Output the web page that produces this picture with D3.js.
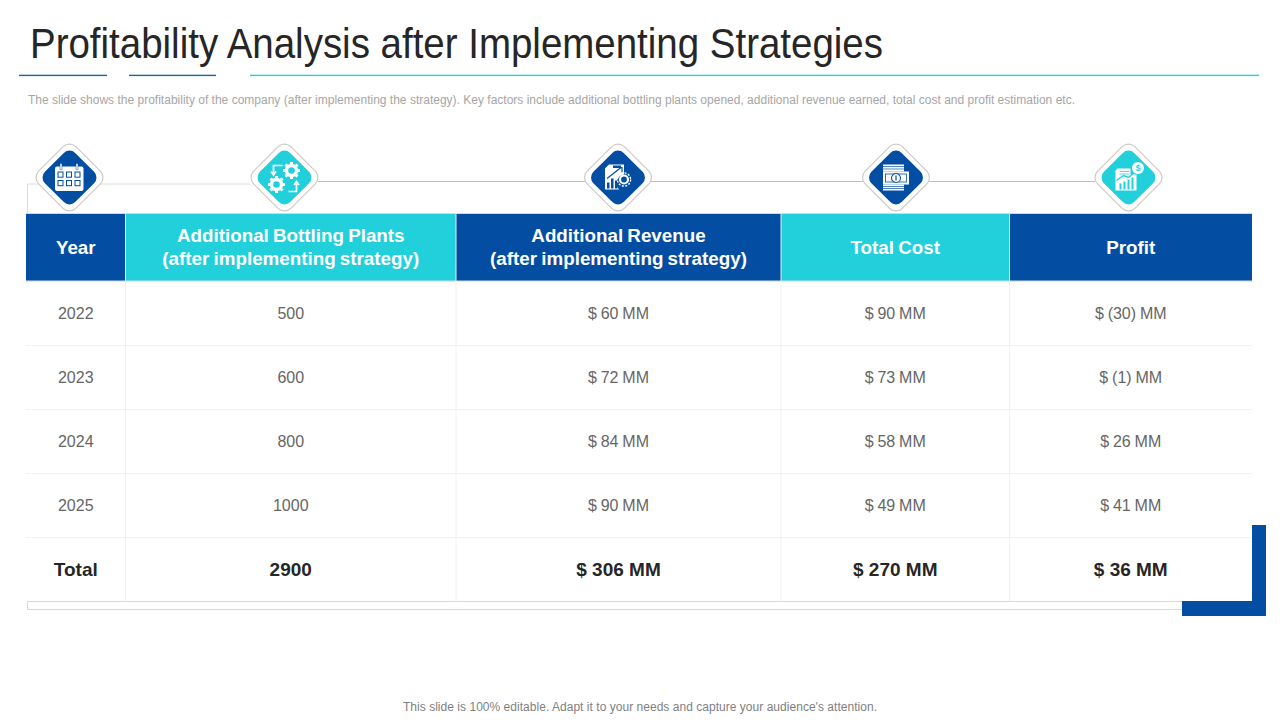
<!DOCTYPE html>
<html>
<head>
<meta charset="utf-8">
<script src="https://cdn.jsdelivr.net/npm/d3@7"></script>
<style>
  html, body { margin: 0; padding: 0; background: #fff; }
  svg { display: block; }
  text { font-family: "Liberation Sans", Arial, sans-serif; }
</style>
</head>
<body>
<svg id="chart" width="1280" height="720"></svg>
<script>
const titleText = 'Profitability Analysis after Implementing Strategies';
const subText = 'The slide shows the profitability of the company (after implementing the strategy). Key factors include additional bottling plants opened, additional revenue earned, total cost and profit estimation etc.';
const footText = "This slide is 100% editable. Adapt it to your needs and capture your audience's attention.";

const headers = [
  ['Year'],
  ['Additional Bottling Plants', '(after implementing strategy)'],
  ['Additional Revenue', '(after implementing strategy)'],
  ['Total Cost'],
  ['Profit']
];
const years = ['2022', '2023', '2024', '2025', 'Total'];
const plants = ['500', '600', '800', '1000', '2900'];
const revenue = ['$ 60 MM', '$ 72 MM', '$ 84 MM', '$ 90 MM', '$ 306 MM'];
const cost = ['$ 90 MM', '$ 73 MM', '$ 58 MM', '$ 49 MM', '$ 270 MM'];
const profit = ['$ (30) MM', '$ (1) MM', '$ 26 MM', '$ 41 MM', '$ 36 MM'];
const columns = [years, plants, revenue, cost, profit];

const colEdges = [26, 125.5, 456, 781, 1009.5, 1252];
const iconX = [69.5, 284.5, 618, 896, 1128.5];
const blue = '#034ea2';
const teal = '#22d0dc';
const headFill = [blue, teal, blue, teal, blue];
const iconFill = [blue, teal, blue, blue, teal];

const svg = d3.select('#chart');
const colX = d3.scaleOrdinal().domain(d3.range(5)).range(colEdges.slice(0, 5));
const colW = i => colEdges[i + 1] - colEdges[i];
const rowY = d3.scaleBand().domain(years).range([281, 601]);

// title and the three rules under it
svg.append('text').attr('x', 30).attr('y', 57.5)
  .style('font-family', '"Liberation Sans Narrow", "Liberation Sans"')
  .style('font-size', '42px').attr('fill', '#262626')
  .attr('textLength', 853).attr('lengthAdjust', 'spacingAndGlyphs')
  .text(titleText);

svg.selectAll('.rule')
  .data([[19, 107, '#0f6a9e'], [129, 216, '#0f6a9e'], [250, 1259, teal]])
  .enter().append('rect').attr('class', 'rule')
  .attr('x', d => d[0]).attr('width', d => d[1] - d[0]).attr('y', 74.7).attr('height', 1.4)
  .attr('fill', d => d[2]);

svg.append('text').attr('x', 28).attr('y', 104)
  .style('font-size', '12px').attr('fill', '#a6a6a6')
  .attr('textLength', 1047).attr('lengthAdjust', 'spacing')
  .text(subText);

svg.append('text').attr('x', 403).attr('y', 711)
  .style('font-size', '12px').attr('fill', '#7f7f7f')
  .attr('textLength', 474).attr('lengthAdjust', 'spacing')
  .text(footText);

// connector lines behind icons
svg.append('path').attr('d', 'M27.5,214V184H250').attr('fill', 'none')
  .attr('stroke', '#dcdcdc').attr('stroke-width', 1);
svg.append('line').attr('x1', 318).attr('x2', 1095).attr('y1', 181.5).attr('y2', 181.5)
  .attr('stroke', '#bdbdbd').attr('stroke-width', 1);

// bottom frame and blue corner
svg.append('rect').attr('x', 27.5).attr('y', 601.5).attr('width', 1160).attr('height', 8)
  .attr('fill', '#fff').attr('stroke', '#d9d9d9');
svg.append('path').attr('d', 'M1252,525H1266V616H1182V601H1252Z').attr('fill', blue);

// header cells
const head = svg.selectAll('.head').data(headers).enter().append('g').attr('class', 'head');
head.append('rect')
  .attr('x', (d, i) => colX(i)).attr('y', 214)
  .attr('width', (d, i) => colW(i)).attr('height', 67)
  .attr('fill', (d, i) => headFill[i]);
head.each(function (lines, i) {
  const cx = colX(i) + colW(i) / 2;
  d3.select(this).selectAll('text').data(lines).enter().append('text')
    .attr('x', cx)
    .attr('y', (d, k) => 247 + (k - (lines.length - 1) / 2) * 23 + 6.5)
    .attr('text-anchor', 'middle')
    .attr('fill', '#fff').style('font-size', '18.8px').style('font-weight', 'bold')
    .style('word-spacing', '-1px')
    .text(d => d);
});
svg.append('line').attr('x1', 26).attr('x2', 1252).attr('y1', 213.5).attr('y2', 213.5)
  .attr('stroke', '#cfd8e3');
svg.append('line').attr('x1', 26).attr('x2', 1252).attr('y1', 281).attr('y2', 281)
  .attr('stroke', '#cfd8e3');
svg.selectAll('.headsep').data(colEdges.slice(1, 5)).enter().append('line')
  .attr('x1', d => d).attr('x2', d => d).attr('y1', 214).attr('y2', 281)
  .attr('stroke', '#e4eef4');

// grid
svg.selectAll('.rowline').data(years.slice(1)).enter().append('line')
  .attr('x1', 26).attr('x2', 1252)
  .attr('y1', d => rowY(d) + 0.5).attr('y2', d => rowY(d) + 0.5)
  .attr('stroke', '#f2f2f2');
svg.selectAll('.colline').data(colEdges.slice(1, 5)).enter().append('line')
  .attr('x1', d => d).attr('x2', d => d).attr('y1', 281).attr('y2', 601)
  .attr('stroke', '#f0f0f0');

// body cells
columns.forEach((col, i) => {
  svg.selectAll('.cell' + i).data(col).enter().append('text')
    .attr('class', 'cell' + i)
    .attr('x', colX(i) + colW(i) / 2)
    .attr('y', (d, r) => rowY(years[r]) + rowY.bandwidth() / 2 + (r === 4 ? 7 : 5.5))
    .attr('text-anchor', 'middle')
    .attr('fill', (d, r) => r === 4 ? '#262626' : '#666')
    .style('font-size', (d, r) => r === 4 ? '19px' : '16px')
    .style('font-weight', (d, r) => r === 4 ? 'bold' : 'normal')
    .style('word-spacing', (d, r) => r === 4 ? '0' : '-0.6px')
    .text(d => d);
});

// icon badges: rounded diamonds as rotated squares
const badge = svg.selectAll('.badge').data(iconX).enter().append('g')
  .attr('class', 'badge').attr('transform', d => `translate(${d},177.5)`);
[[33.5, 9, '#fff', '#cfcac6', 1.2], [27, 8, null, 'none', 0]].forEach(([r, c, fill, stroke, sw]) => {
  const size = (r + c * 0.41) * Math.SQRT2;
  badge.append('rect')
    .attr('x', -size / 2).attr('y', -size / 2).attr('width', size).attr('height', size)
    .attr('rx', c).attr('ry', c)
    .attr('transform', 'rotate(45)')
    .attr('fill', (d, i) => fill || iconFill[i])
    .attr('stroke', stroke).attr('stroke-width', sw);
});

const ink = '#fff';
const glyphs = [
  // calendar
  (g, bg) => {
    g.append('rect').attr('x', -14.5).attr('y', -11).attr('width', 28.5).attr('height', 24.5).attr('rx', 2).attr('fill', ink);
    [-8.5, 7.5].forEach(x => {
      g.append('rect').attr('x', x - 1).attr('y', -14).attr('width', 2).attr('height', 6).attr('fill', ink)
        .attr('stroke', bg).attr('stroke-width', 0.5);
    });
    d3.cross([-11.5, -3, 5.5], [-5.5, 3]).forEach(([x, y]) => {
      g.append('rect').attr('x', x).attr('y', y).attr('width', 5).attr('height', 5.2)
        .attr('fill', 'none').attr('stroke', bg).attr('stroke-width', 1);
    });
  },
  // gears with arrows
  g => {
    [[7, -7], [-8, 7]].forEach(([x, y]) => {
      g.append('circle').attr('cx', x).attr('cy', y).attr('r', 5).attr('fill', 'none').attr('stroke', ink).attr('stroke-width', 3.4);
      d3.range(8).forEach(k => {
        g.append('rect').attr('x', x - 1.5).attr('y', y - 8.5).attr('width', 3).attr('height', 3)
          .attr('transform', `rotate(${k * 45},${x},${y})`).attr('fill', ink);
      });
    });
    g.append('path').attr('d', 'M-11,-3V-12H-2M-13.5,-6L-11,-2.5L-8.5,-6').attr('fill', 'none').attr('stroke', ink).attr('stroke-width', 1.7);
    g.append('path').attr('d', 'M4,14H12V5M9.5,7.5L12,4L14.5,7.5').attr('fill', 'none').attr('stroke', ink).attr('stroke-width', 1.7);
  },
  // report with gear
  (g, bg) => {
    g.append('path').attr('d', 'M-9,-13H6V-3A9,9 0 0 0 1,12H-13V-9Z').attr('fill', ink);
    g.append('path').attr('d', 'M-11,1L3,-10M-1,-10H4V-5').attr('fill', 'none').attr('stroke', bg).attr('stroke-width', 1.2);
    g.append('rect').attr('x', -5).attr('y', -12).attr('width', 8).attr('height', 2.5).attr('fill', bg);
    [[-11, 5], [-7, 1], [-3, 3]].forEach(([x, y]) => {
      g.append('rect').attr('x', x).attr('y', y).attr('width', 2.5).attr('height', 11 - y).attr('fill', bg);
    });
    g.append('circle').attr('cx', 6).attr('cy', 2).attr('r', 4).attr('fill', 'none').attr('stroke', ink).attr('stroke-width', 2.2);
    g.append('circle').attr('cx', 6).attr('cy', 2).attr('r', 6.6).attr('fill', 'none').attr('stroke', ink).attr('stroke-width', 1.4).attr('stroke-dasharray', '2 1.5');
  },
  // banknotes
  (g, bg) => {
    g.append('rect').attr('x', -13).attr('y', -13).attr('width', 21).attr('height', 7).attr('fill', ink);
    [-11, -8.5].forEach(y => {
      g.append('line').attr('x1', -13).attr('x2', 8).attr('y1', y).attr('y2', y).attr('stroke', bg).attr('stroke-width', 0.7);
    });
    g.append('rect').attr('x', -13).attr('y', -6).attr('width', 26).attr('height', 13).attr('fill', ink);
    g.append('rect').attr('x', -10.5).attr('y', -3.5).attr('width', 21).attr('height', 8).attr('fill', 'none').attr('stroke', bg).attr('stroke-width', 0.8);
    g.append('circle').attr('cx', 0).attr('cy', 0.5).attr('r', 4.5).attr('fill', ink).attr('stroke', bg).attr('stroke-width', 1.1);
    g.append('line').attr('x1', 0).attr('x2', 0).attr('y1', -2).attr('y2', 3).attr('stroke', bg).attr('stroke-width', 1.2);
    g.append('rect').attr('x', -13).attr('y', 7).attr('width', 21).attr('height', 6).attr('fill', ink);
    [9, 11].forEach(y => {
      g.append('line').attr('x1', -13).attr('x2', 8).attr('y1', y).attr('y2', y).attr('stroke', bg).attr('stroke-width', 0.7);
    });
  },
  // profit sheet with coin
  (g, bg) => {
    g.append('path').attr('d', 'M-11,-9H2V-3H8V13H-13V-7Z').attr('fill', ink);
    [-6, -3.5].forEach(y => {
      g.append('line').attr('x1', -9).attr('x2', 1).attr('y1', y).attr('y2', y).attr('stroke', bg).attr('stroke-width', 0.8);
    });
    g.append('path').attr('d', 'M-12,3L-5,-2L0,0L7,-6').attr('fill', 'none').attr('stroke', bg).attr('stroke-width', 1.4);
    [-9, -5, -1, 3].forEach((x, k) => {
      g.append('rect').attr('x', x).attr('y', 6 - k * 2).attr('width', 2).attr('height', 6 + k * 2).attr('fill', bg);
    });
    g.append('circle').attr('cx', 9.5).attr('cy', -9.5).attr('r', 6).attr('fill', ink);
    g.append('text').attr('x', 9.5).attr('y', -6.5).attr('text-anchor', 'middle').style('font-size', '8.5px').style('font-weight', 'bold').attr('fill', bg).text('$');
  }
];
badge.each(function (d, i) {
  glyphs[i](d3.select(this).append('g'), iconFill[i]);
});
</script>
</body>
</html>
